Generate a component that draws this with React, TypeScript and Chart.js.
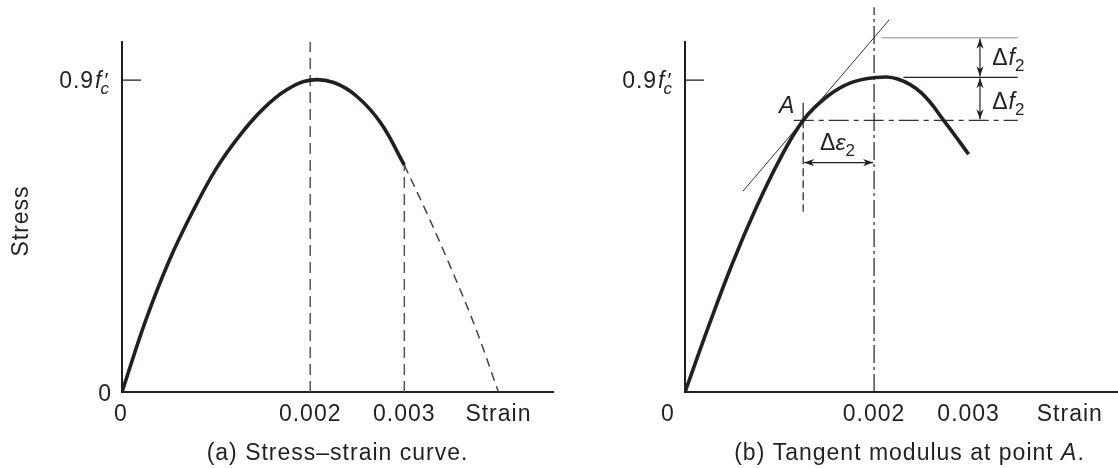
import React, { useEffect, useRef } from 'react';
import { Chart, registerables } from 'chart.js';

Chart.register(...registerables);

const FONT = '"Liberation Sans", Arial, Helvetica, sans-serif';
const INK = '#231f20';
const GREY = '#555555';

// ---------- shared axes ----------
const X_MAX = 0.00458;
const Y_MAX = 1.01;
const xTickValues = [0, 0.002, 0.003];
const xTickLabels = ['0', '0.002', '0.003'];
const xTitle = 'Strain';
const yTitle = 'Stress';
const yTickValue = 0.9;
const strainTitlePos = [0.004, 0.00407]; // panel a, panel b

// ---------- panel (a) ----------
const strainA = [0, 0.00025, 0.0005, 0.00075, 0.001, 0.00125, 0.0015, 0.00175, 0.002, 0.00225, 0.0025, 0.00275, 0.003];
const stressA = [0, 0.205, 0.378, 0.52, 0.644, 0.74, 0.817, 0.872, 0.9, 0.893, 0.852, 0.776, 0.655];
const strainADashed = [0.003, 0.00325, 0.0035, 0.00375, 0.004];
const stressADashed = [0.655, 0.51, 0.355, 0.19, 0];
const guideStrainA = [0.002, 0.003];
const guideTopA = [Y_MAX, 0.655];
const captionA = '(a) Stress\u2013strain curve.';

// ---------- panel (b) ----------
const strainB = [0, 0.00025, 0.0005, 0.00075, 0.001, 0.00125, 0.0015, 0.00175, 0.002, 0.00225, 0.0025, 0.00275, 0.003];
const stressB = [0, 0.19, 0.37, 0.53, 0.67, 0.784, 0.852, 0.892, 0.907, 0.903, 0.863, 0.779, 0.686];
const tangentStrain = [0.000614, 0.00216];
const tangentStress = [0.58, 1.074];
const pointA = [0.00125, 0.784];
const peakGuideStrain = 0.002;
const peakGuideStress = [0, 1.11];
const levelAStrain = [0.00115, 0.00352];
const levelPeakStrain = [0.00231, 0.00352];
const levelPeak = 0.908;
const levelTopStrain = [0.00208, 0.00352];
const levelTop = 1.022;
const markA = [0.835, 0.52];
const deltaEpsStrain = [0.00125, 0.002];
const deltaEpsLevel = 0.662;
const deltaFStrain = 0.00312;
const deltaFLevels = [1.022, 0.908, 0.784];
const labelAPos = [0.000995, 0.805];
const labelDeltaEpsPos = [0.001429, 0.698];
const labelDeltaFPos = [0.00325, 0.943, 0.818];
const captionB = ['(b) Tangent modulus at point ', 'A', '.'];

const pts = (xs: number[], ys: number[]) => xs.map((x, i) => ({ x, y: ys[i] }));

function setFont(ctx: CanvasRenderingContext2D, size: number, italic = false) {
  ctx.font = `${italic ? 'italic ' : ''}${size}px ${FONT}`;
  (ctx as any).letterSpacing = '1px';
}

function drawYTickLabel(ctx: CanvasRenderingContext2D, right: number, y: number) {
  setFont(ctx, 23);
  const w1 = ctx.measureText('0.9').width;
  setFont(ctx, 23, true);
  const wf = ctx.measureText('f').width;
  setFont(ctx, 17, true);
  const wc = ctx.measureText('c').width;
  const total = w1 + wf + wc - 1;
  const x0 = right - total;
  ctx.textAlign = 'left';
  ctx.textBaseline = 'alphabetic';
  setFont(ctx, 23);
  ctx.fillText('0.9', x0, y + 8);
  setFont(ctx, 23, true);
  ctx.fillText('f', x0 + w1 + 1, y + 8);
  setFont(ctx, 21, true);
  ctx.fillText('\u2032', x0 + w1 + wf + 2, y + 7);
  setFont(ctx, 17, true);
  ctx.fillText('c', x0 + w1 + wf - 1, y + 14);
}

function drawXLabels(chart: any, zeroOffset: number, titleValue: number) {
  const ctx = chart.ctx as CanvasRenderingContext2D;
  const xs = chart.scales.x;
  const base = chart.chartArea.bottom + 29;
  setFont(ctx, 23);
  ctx.fillStyle = INK;
  ctx.textAlign = 'center';
  ctx.textBaseline = 'alphabetic';
  xTickValues.forEach((v, i) => {
    const off = v === 0 ? zeroOffset : 0;
    ctx.fillText(xTickLabels[i], xs.getPixelForValue(v) + off, base);
  });
  ctx.fillText(xTitle, xs.getPixelForValue(titleValue), base);
}

function drawYTick(chart: any) {
  const ctx = chart.ctx as CanvasRenderingContext2D;
  const ys = chart.scales.y;
  const left = chart.chartArea.left;
  const y = ys.getPixelForValue(yTickValue);
  ctx.strokeStyle = INK;
  ctx.lineWidth = 1.3;
  ctx.beginPath();
  ctx.moveTo(left, y);
  ctx.lineTo(left + 19, y);
  ctx.stroke();
  ctx.fillStyle = INK;
  drawYTickLabel(ctx, left - 12, y);
}

function arrowHead(ctx: CanvasRenderingContext2D, x: number, y: number, ang: number) {
  const L = 10;
  const W = 3.6;
  ctx.save();
  ctx.translate(x, y);
  ctx.rotate(ang);
  ctx.beginPath();
  ctx.moveTo(0, 0);
  ctx.lineTo(-L, -W);
  ctx.lineTo(-L + 3, 0);
  ctx.lineTo(-L, W);
  ctx.closePath();
  ctx.fill();
  ctx.restore();
}

function doubleArrow(ctx: CanvasRenderingContext2D, x1: number, y1: number, x2: number, y2: number) {
  ctx.beginPath();
  ctx.moveTo(x1, y1);
  ctx.lineTo(x2, y2);
  ctx.stroke();
  const ang = Math.atan2(y2 - y1, x2 - x1);
  arrowHead(ctx, x2, y2, ang);
  arrowHead(ctx, x1, y1, ang + Math.PI);
}

const panelAPlugin = {
  id: 'panelA',
  afterDraw(chart: any) {
    const ctx = chart.ctx as CanvasRenderingContext2D;
    const ca = chart.chartArea;
    const xs = chart.scales.x;
    const ys = chart.scales.y;
    ctx.save();
    drawYTick(chart);
    setFont(ctx, 23);
    ctx.fillStyle = INK;
    ctx.textAlign = 'right';
    ctx.textBaseline = 'alphabetic';
    ctx.fillText('0', xs.getPixelForValue(0) - 10, ys.getPixelForValue(0) + 9);
    drawXLabels(chart, -1, strainTitlePos[0]);
    ctx.save();
    ctx.translate(22, (ca.top + ca.bottom) / 2 + 4);
    ctx.rotate(-Math.PI / 2);
    setFont(ctx, 23);
    ctx.textAlign = 'center';
    ctx.textBaseline = 'middle';
    ctx.fillText(yTitle, 0, 0);
    ctx.restore();
    setFont(ctx, 23);
    ctx.textAlign = 'center';
    ctx.textBaseline = 'alphabetic';
    ctx.fillText(captionA, (ca.left + ca.right) / 2, 460);
    ctx.restore();
  },
};

const panelBPlugin = {
  id: 'panelB',
  afterDraw(chart: any) {
    const ctx = chart.ctx as CanvasRenderingContext2D;
    const ca = chart.chartArea;
    const xs = chart.scales.x;
    const ys = chart.scales.y;
    const X = (v: number) => xs.getPixelForValue(v);
    const Y = (v: number) => ys.getPixelForValue(v);
    ctx.save();
    drawYTick(chart);
    drawXLabels(chart, -17, strainTitlePos[1]);

    ctx.strokeStyle = INK;
    ctx.fillStyle = INK;
    ctx.lineWidth = 1.2;
    doubleArrow(ctx, X(deltaEpsStrain[0]) + 1, Y(deltaEpsLevel), X(deltaEpsStrain[1]) - 1, Y(deltaEpsLevel));
    doubleArrow(ctx, X(deltaFStrain), Y(deltaFLevels[0]) + 1, X(deltaFStrain), Y(deltaFLevels[1]) - 1);
    doubleArrow(ctx, X(deltaFStrain), Y(deltaFLevels[1]) + 1, X(deltaFStrain), Y(deltaFLevels[2]) - 1);

    ctx.textAlign = 'left';
    ctx.textBaseline = 'alphabetic';
    setFont(ctx, 23, true);
    ctx.fillText('A', X(labelAPos[0]), Y(labelAPos[1]));

    let x = X(labelDeltaEpsPos[0]);
    const b = Y(labelDeltaEpsPos[1]);
    setFont(ctx, 23);
    ctx.fillText('\u0394', x, b);
    x += ctx.measureText('\u0394').width - 1;
    setFont(ctx, 23, true);
    ctx.fillText('\u03b5', x, b);
    x += ctx.measureText('\u03b5').width - 1;
    setFont(ctx, 17);
    ctx.fillText('2', x, b + 6);

    [labelDeltaFPos[1], labelDeltaFPos[2]].forEach((lv) => {
      let xx = X(labelDeltaFPos[0]);
      const bb = Y(lv);
      setFont(ctx, 23);
      ctx.fillText('\u0394', xx, bb);
      xx += ctx.measureText('\u0394').width;
      setFont(ctx, 23, true);
      ctx.fillText('f', xx, bb);
      xx += ctx.measureText('f').width - 1;
      setFont(ctx, 17);
      ctx.fillText('2', xx, bb + 6);
    });

    setFont(ctx, 23);
    const w0 = ctx.measureText(captionB[0]).width;
    setFont(ctx, 23, true);
    const w1 = ctx.measureText(captionB[1]).width;
    setFont(ctx, 23);
    const w2 = ctx.measureText(captionB[2]).width;
    const cx = (ca.left + ca.right) / 2 + 8;
    let sx = cx - (w0 + w1 + w2) / 2;
    ctx.textAlign = 'left';
    ctx.fillText(captionB[0], sx, 460);
    sx += w0;
    setFont(ctx, 23, true);
    ctx.fillText(captionB[1], sx, 460);
    sx += w1;
    setFont(ctx, 23);
    ctx.fillText(captionB[2], sx, 460);
    ctx.restore();
  },
};

function baseOptions(padLeft: number, padRight: number) {
  const axis = (max: number) => ({
    type: 'linear' as const,
    min: 0,
    max,
    grid: { display: false, drawTicks: false },
    border: { display: true, color: INK, width: 2 },
    ticks: { display: false },
  });
  return {
    responsive: false,
    animation: false as const,
    events: [],
    layout: { padding: { left: padLeft, right: padRight, top: 42, bottom: 76 } },
    plugins: { legend: { display: false }, tooltip: { enabled: false } },
    elements: { point: { radius: 0 } },
    scales: { x: axis(X_MAX), y: axis(Y_MAX) },
  };
}

function line(data: any[], extra: any) {
  return {
    data,
    borderColor: INK,
    borderWidth: 1.2,
    pointRadius: 0,
    fill: false,
    tension: 0,
    ...extra,
  };
}

function makeConfigA(): any {
  return {
    type: 'line',
    data: {
      datasets: [
        line(pts(strainA, stressA), { borderWidth: 3.6, tension: 0.4 }),
        line(pts(strainADashed, stressADashed), { borderWidth: 1.5, borderColor: '#444', borderDash: [9, 6], tension: 0.4 }),
        line(pts([guideStrainA[0], guideStrainA[0]], [0, guideTopA[0]]), { borderWidth: 1.5, borderColor: GREY, borderDash: [11, 6] }),
        line(pts([guideStrainA[1], guideStrainA[1]], [0, guideTopA[1]]), { borderWidth: 1.5, borderColor: GREY, borderDash: [11, 6] }),
      ],
    },
    options: baseOptions(122, 6),
    plugins: [panelAPlugin],
  };
}

function makeConfigB(): any {
  return {
    type: 'line',
    data: {
      datasets: [
        line(pts(strainB, stressB), { borderWidth: 3.6, tension: 0.4 }),
        line(pts(tangentStrain, tangentStress), { borderWidth: 1, borderColor: '#333', clip: false }),
        line(pts([peakGuideStrain, peakGuideStrain], peakGuideStress), { borderWidth: 1.2, borderDash: [18, 4, 3, 4], clip: false }),
        line(pts(levelAStrain, [pointA[1], pointA[1]]), { borderWidth: 1.2, borderColor: '#333', borderDash: [20, 5, 5, 5] }),
        line(pts(levelPeakStrain, [levelPeak, levelPeak]), { borderWidth: 1.2 }),
        line(pts(levelTopStrain, [levelTop, levelTop]), { borderWidth: 1, borderColor: '#888', clip: false }),
        line(pts([pointA[0], pointA[0]], [markA[0], pointA[1]]), { borderWidth: 1.2 }),
        line(pts([pointA[0], pointA[0]], [pointA[1], markA[1]]), { borderWidth: 1.2, borderDash: [8, 4] }),
      ],
    },
    options: baseOptions(126, 0),
    plugins: [panelBPlugin],
  };
}

export default function App() {
  const refA = useRef<HTMLCanvasElement>(null);
  const refB = useRef<HTMLCanvasElement>(null);
  useEffect(() => {
    const a = new Chart(refA.current!, makeConfigA());
    const b = new Chart(refB.current!, makeConfigB());
    return () => {
      a.destroy();
      b.destroy();
    };
  }, []);
  return (
    <div style={{ position: 'fixed', left: 0, top: 0, width: 1118, height: 468, background: '#fff' }}>
      <canvas ref={refA} width={559} height={468} style={{ position: 'absolute', left: 0, top: 0, width: 559, height: 468 }} />
      <canvas ref={refB} width={559} height={468} style={{ position: 'absolute', left: 559, top: 0, width: 559, height: 468 }} />
    </div>
  );
}
